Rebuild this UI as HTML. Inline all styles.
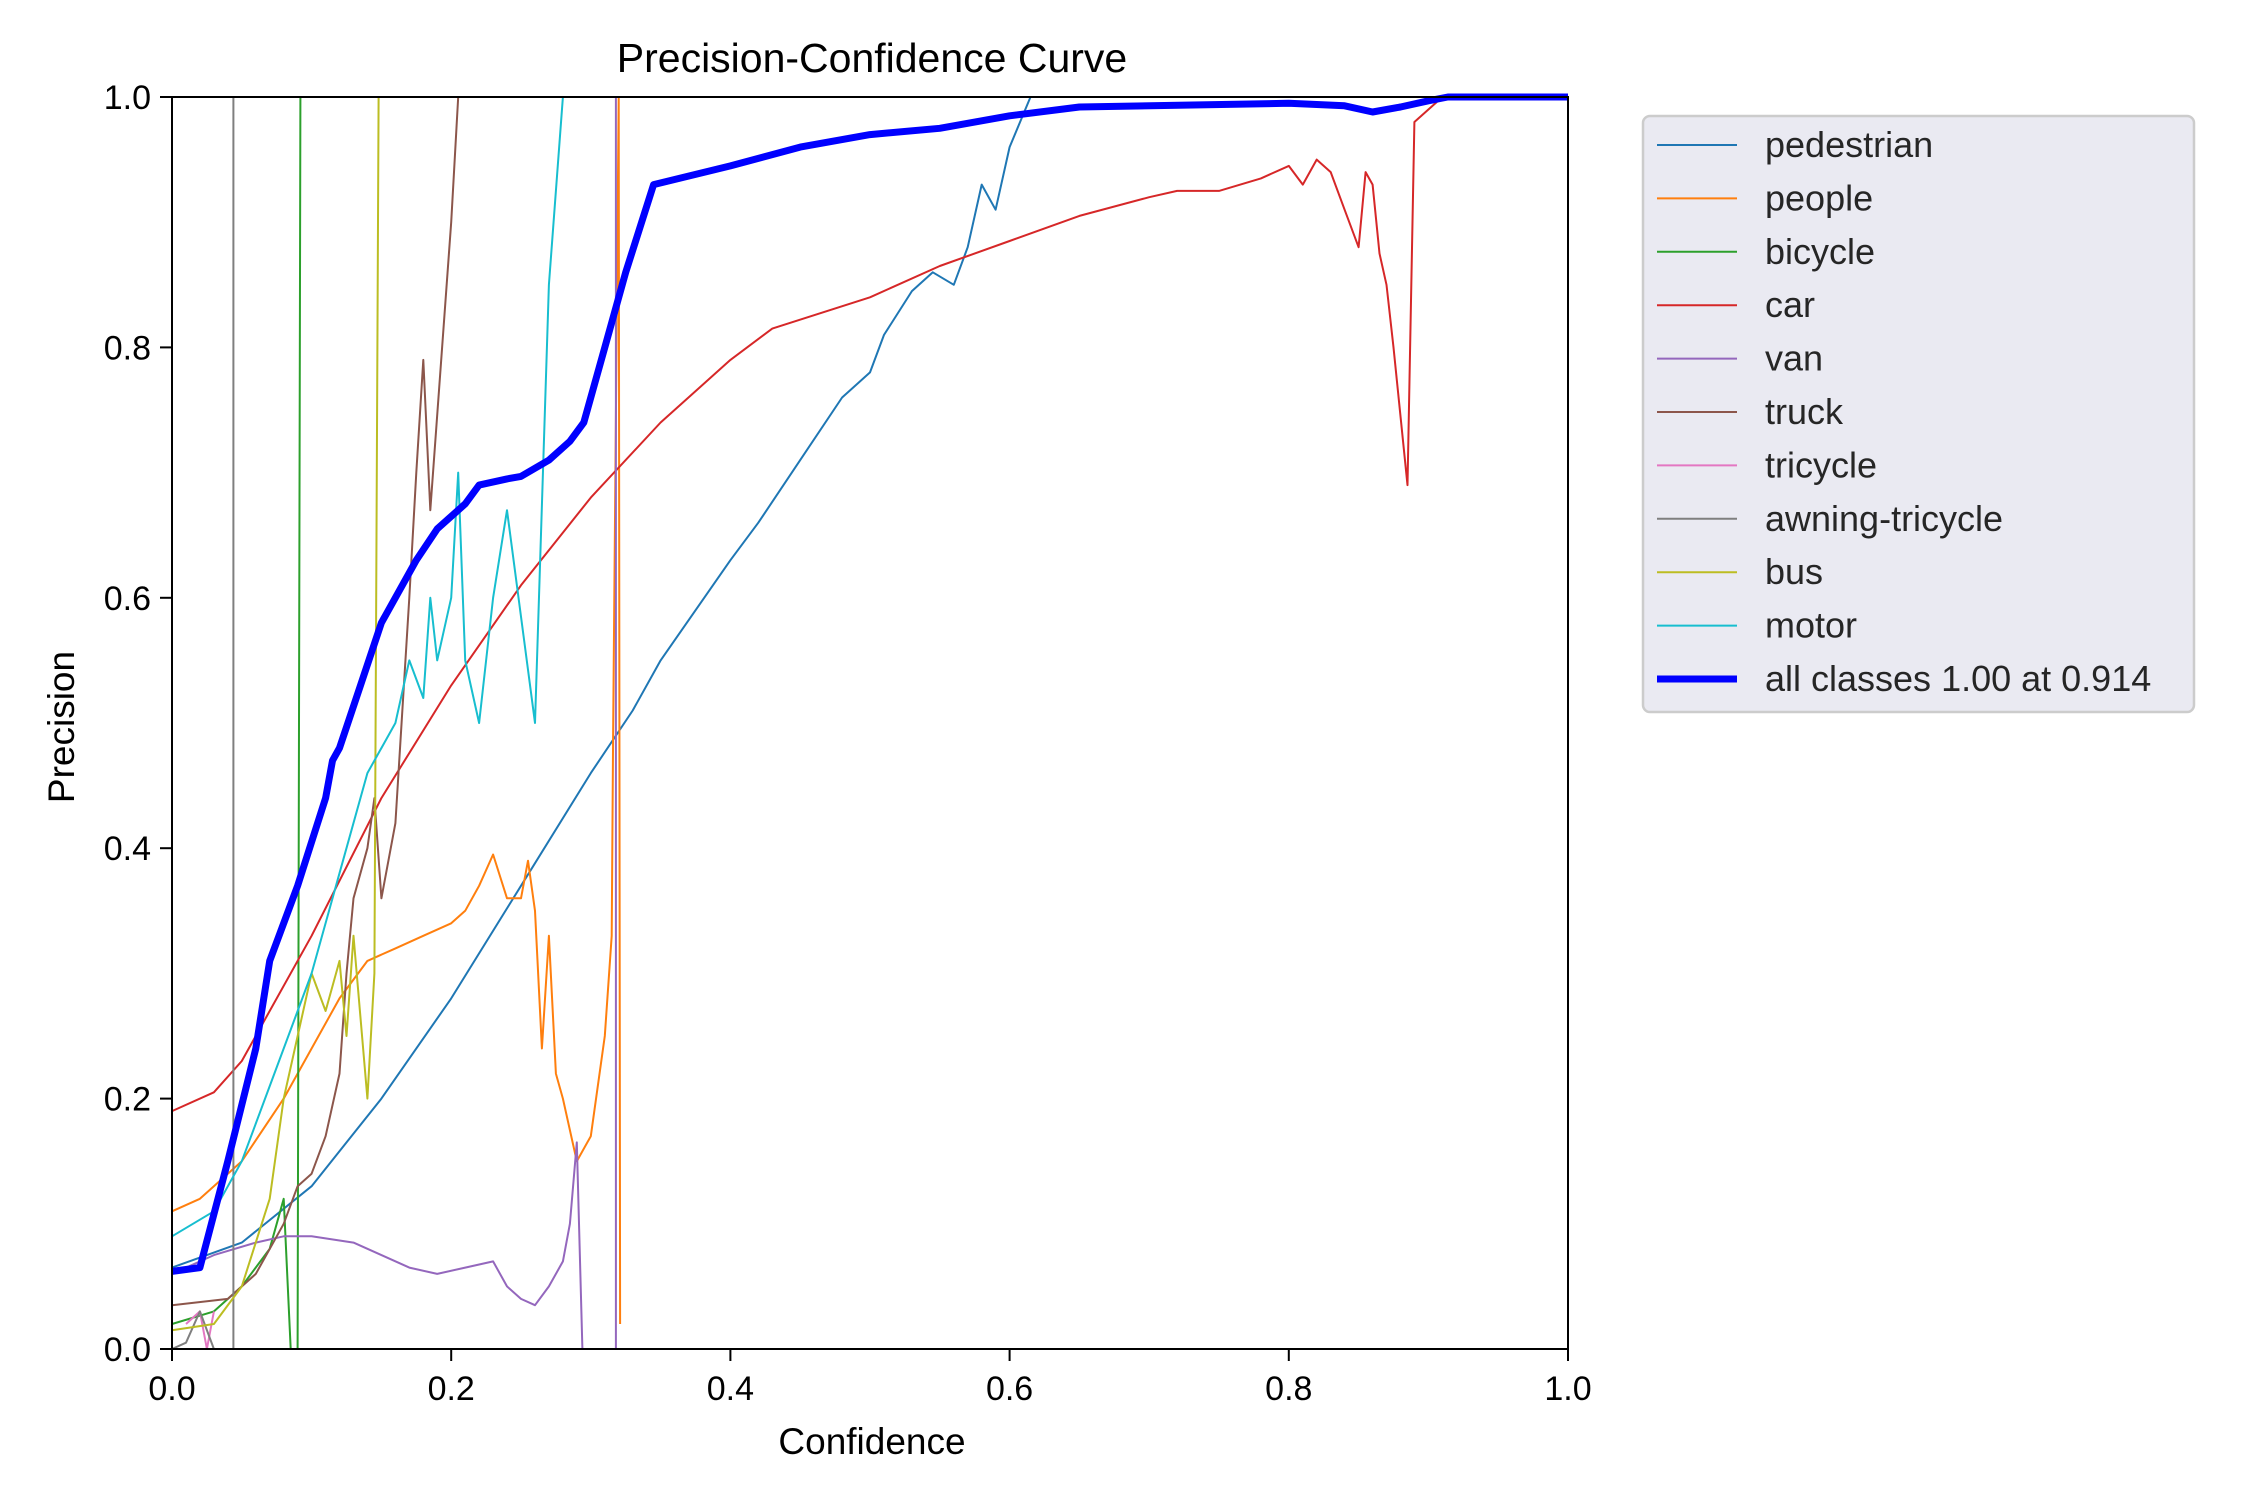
<!DOCTYPE html>
<html><head><meta charset="utf-8"><style>
body{margin:0;background:#fff;}
svg{display:block;font-family:"Liberation Sans",Arial,sans-serif;}
</style></head><body>
<svg id="chart" width="2250" height="1500" viewBox="0 0 2250 1500" xmlns="http://www.w3.org/2000/svg">
<rect width="2250" height="1500" fill="#fff"/>
<text x="872" y="72" font-size="41" text-anchor="middle">Precision-Confidence Curve</text>
<g id="marks"></g>
<g id="axes"></g>
<text x="872" y="1454" font-size="37" text-anchor="middle">Confidence</text>
<text transform="translate(74,727) rotate(-90)" font-size="37" text-anchor="middle">Precision</text>
<g id="legend"></g>
</svg>
<script>
const xTicks=[0,0.2,0.4,0.6,0.8,1.0];
const yTicks=[0,0.2,0.4,0.6,0.8,1.0];
const seriesNames=["pedestrian","people","bicycle","car","van","truck","tricycle","awning-tricycle","bus","motor"];
const seriesColors=["#1f77b4","#ff7f0e","#2ca02c","#d62728","#9467bd","#8c564b","#e377c2","#7f7f7f","#bcbd22","#17becf"];
const pedestrian=[[0,0.065],[0.05,0.085],[0.1,0.13],[0.15,0.2],[0.2,0.28],[0.25,0.37],[0.3,0.46],[0.33,0.51],[0.35,0.55],[0.4,0.63],[0.42,0.66],[0.45,0.71],[0.48,0.76],[0.5,0.78],[0.51,0.81],[0.53,0.845],[0.545,0.86],[0.56,0.85],[0.57,0.88],[0.58,0.93],[0.59,0.91],[0.6,0.96],[0.615,1.0]];
const people=[[0,0.11],[0.02,0.12],[0.05,0.15],[0.08,0.2],[0.1,0.24],[0.12,0.28],[0.14,0.31],[0.16,0.32],[0.18,0.33],[0.2,0.34],[0.21,0.35],[0.22,0.37],[0.23,0.395],[0.24,0.36],[0.25,0.36],[0.255,0.39],[0.26,0.35],[0.265,0.24],[0.27,0.33],[0.275,0.22],[0.28,0.2],[0.29,0.15],[0.3,0.17],[0.31,0.25],[0.315,0.33],[0.316,0.49],[0.32,1.0],[0.321,0.02]];
const bicycle=[[0,0.02],[0.03,0.03],[0.05,0.05],[0.07,0.08],[0.08,0.12],[0.085,0.0],[0.09,0.0],[0.092,1.0]];
const car=[[0,0.19],[0.03,0.205],[0.05,0.23],[0.1,0.33],[0.15,0.44],[0.2,0.53],[0.25,0.61],[0.3,0.68],[0.35,0.74],[0.4,0.79],[0.43,0.815],[0.5,0.84],[0.55,0.865],[0.6,0.885],[0.65,0.905],[0.7,0.92],[0.72,0.925],[0.75,0.925],[0.78,0.935],[0.8,0.945],[0.81,0.93],[0.82,0.95],[0.83,0.94],[0.84,0.91],[0.85,0.88],[0.855,0.94],[0.86,0.93],[0.865,0.875],[0.87,0.85],[0.875,0.8],[0.885,0.69],[0.89,0.98],[0.91,1.0],[1,1]];
const van=[[0,0.06],[0.03,0.075],[0.06,0.085],[0.08,0.09],[0.1,0.09],[0.13,0.085],[0.15,0.075],[0.17,0.065],[0.19,0.06],[0.21,0.065],[0.23,0.07],[0.24,0.05],[0.25,0.04],[0.26,0.035],[0.27,0.05],[0.28,0.07],[0.285,0.1],[0.29,0.165],[0.294,0.0],[0.318,0.0],[0.318,1.0]];
const truck=[[0,0.035],[0.04,0.04],[0.06,0.06],[0.08,0.1],[0.09,0.13],[0.1,0.14],[0.11,0.17],[0.12,0.22],[0.125,0.3],[0.13,0.36],[0.14,0.4],[0.145,0.44],[0.15,0.36],[0.16,0.42],[0.17,0.6],[0.175,0.7],[0.18,0.79],[0.185,0.67],[0.2,0.9],[0.205,1.0]];
const tricycle=[[0.01,0.02],[0.02,0.03],[0.025,0.0],[0.03,0.03]];
const awning=[[0,0],[0.01,0.005],[0.02,0.03],[0.03,0.0],[0.044,0.0],[0.044,1.0]];
const bus=[[0,0.015],[0.03,0.02],[0.05,0.05],[0.07,0.12],[0.08,0.2],[0.1,0.3],[0.11,0.27],[0.12,0.31],[0.125,0.25],[0.13,0.33],[0.14,0.2],[0.145,0.3],[0.148,1.0]];
const motor=[[0,0.09],[0.03,0.11],[0.05,0.15],[0.08,0.24],[0.1,0.3],[0.12,0.38],[0.14,0.46],[0.16,0.5],[0.17,0.55],[0.18,0.52],[0.185,0.6],[0.19,0.55],[0.2,0.6],[0.205,0.7],[0.21,0.55],[0.22,0.5],[0.23,0.6],[0.24,0.67],[0.26,0.5],[0.27,0.85],[0.28,1.0]];
const allClasses=[[0,0.062],[0.02,0.065],[0.04,0.15],[0.06,0.24],[0.07,0.31],[0.09,0.37],[0.11,0.44],[0.115,0.47],[0.12,0.48],[0.135,0.53],[0.15,0.58],[0.175,0.63],[0.19,0.655],[0.21,0.675],[0.22,0.69],[0.24,0.695],[0.25,0.697],[0.27,0.71],[0.285,0.725],[0.295,0.74],[0.31,0.8],[0.325,0.86],[0.345,0.93],[0.4,0.945],[0.45,0.96],[0.5,0.97],[0.55,0.975],[0.6,0.985],[0.65,0.992],[0.8,0.995],[0.84,0.993],[0.86,0.988],[0.88,0.992],[0.9,0.997],[0.914,1.0],[1,1]];
const allLabel="all classes 1.00 at 0.914";

const NS="http://www.w3.org/2000/svg";
const L=172,R=1568,T=97,B=1349;
function sx(v){return L+v*(R-L);}
function sy(v){return B-v*(B-T);}
function mk(tag,attrs,parent){const e=document.createElementNS(NS,tag);for(const k in attrs)e.setAttribute(k,attrs[k]);parent.appendChild(e);return e;}
const marks=document.getElementById('marks');
const axes=document.getElementById('axes');
const legend=document.getElementById('legend');
const dataSets=[pedestrian,people,bicycle,car,van,truck,tricycle,awning,bus,motor];
function pathD(arr){return arr.map((p,i)=>(i?'L':'M')+sx(p[0]).toFixed(1)+','+sy(p[1]).toFixed(1)).join('');}
dataSets.forEach((d,i)=>{
  const p=mk('path',{d:pathD(d),fill:'none',stroke:seriesColors[i],'stroke-width':2,'stroke-linejoin':'round'},marks);
  
  
});
const ap=mk('path',{d:pathD(allClasses),fill:'none',stroke:'#0000ff','stroke-width':7,'stroke-linejoin':'round'},marks);


const frame=mk('rect',{x:L,y:T,width:R-L,height:B-T,fill:'none',stroke:'#000','stroke-width':2},axes);


xTicks.forEach(t=>{
  mk('line',{x1:sx(t),x2:sx(t),y1:B,y2:B+12,stroke:'#000','stroke-width':2},axes);
  const tx=mk('text',{x:sx(t),y:B+51,'font-size':34,'text-anchor':'middle'},axes);tx.textContent=t.toFixed(1);
  
  
});
yTicks.forEach(t=>{
  mk('line',{x1:L-12,x2:L,y1:sy(t),y2:sy(t),stroke:'#000','stroke-width':2},axes);
  const tx=mk('text',{x:L-21,y:sy(t)+12,'font-size':34,'text-anchor':'end'},axes);tx.textContent=t.toFixed(1);
  
  
});
mk('rect',{x:1643,y:116,width:551,height:596,rx:7,fill:'#eaeaf2',stroke:'#cccccc','stroke-width':2.5},legend);
const names=seriesNames.concat([allLabel]);
const cols=seriesColors.concat(['#0000ff']);
names.forEach((n,i)=>{
  const y=145+i*53.4;
  const ln=mk('line',{x1:1657,x2:1737,y1:y,y2:y,stroke:cols[i],'stroke-width':i==10?7:2},legend);
  
  
  const tx=mk('text',{x:1765,y:y+12,'font-size':36,fill:'#262626'},legend);tx.textContent=n;
  
  
});
</script>
</body></html>
